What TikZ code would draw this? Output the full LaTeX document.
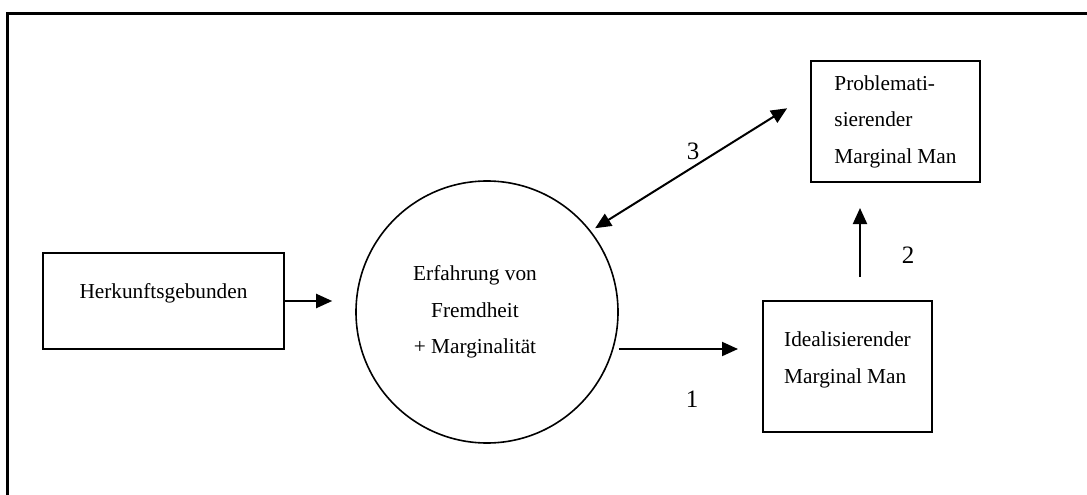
\documentclass[tikz,border=0pt]{standalone}
\usepackage{fontspec}
\setmainfont{Liberation Serif}
\usetikzlibrary{arrows.meta,calc}

\begin{document}
\begin{tikzpicture}[x=1pt,y=-1pt,
  font=\fontsize{21.3}{36.5}\selectfont,
  box/.style={draw, rectangle, line width=2pt, inner sep=0pt},
  arr/.style={line width=2pt, -{Triangle[length=16pt,width=14pt]}},
  num/.style={font=\fontsize{25}{30}\selectfont}]
  \useasboundingbox (0,0) rectangle (1087,495);

  % Frame (only top and left edge)
  \draw[line width=3pt] (7,495) -- (7,14) -- (1087,14);

  % Boxes and circle
  \node[box, minimum width=241pt, minimum height=96pt,
    label={[yshift=7.5pt]center:Herkunftsgebunden}] (herkunft) at (163.5,301) {};
  \node[draw, circle, line width=1.6pt, minimum size=262pt, inner sep=0pt,
    label={[xshift=-12pt, align=center]center:{Erfahrung von\\Fremdheit\\+ Marginalität}}] (erfahrung) at (487,312) {};
  \node[box, minimum width=169pt, minimum height=131pt,
    label={[yshift=6.5pt, align=left]center:{Idealisierender\\Marginal Man}}] (ideal) at (847.5,366.5) {};
  \node[box, minimum width=169pt, minimum height=121pt, align=left] (prob) at (895.5,121.5)
    {Problemati-\\sierender\\Marginal Man};

  % Connectors
  \draw[arr, shorten >=23pt] (herkunft.east) -- (herkunft.east -| erfahrung.west);

  \coordinate (in1) at ($(ideal.west)+(0,-17.5)$);
  \draw[arr, shorten >=24pt] (in1 -| erfahrung.east) -- (in1);

  \coordinate (out2) at ($(ideal.north)+(12.5,0)$);
  \draw[arr, shorten <=23pt, shorten >=25pt] (out2) -- (out2 |- prob.south);

  \coordinate (in3) at ($(prob.west)+(0,-27.5)$);
  \draw[arr, {Triangle[length=16pt,width=14pt]}-{Triangle[length=16pt,width=14pt]},
    shorten <=5pt, shorten >=27pt] (erfahrung.38) -- (in3);

  % Numbers
  \node[num] (n1) at (692,399) {1};
  \node[num] (n2) at (908,255) {2};
  \node[num] (n3) at (693,151) {3};
\end{tikzpicture}
\end{document}
